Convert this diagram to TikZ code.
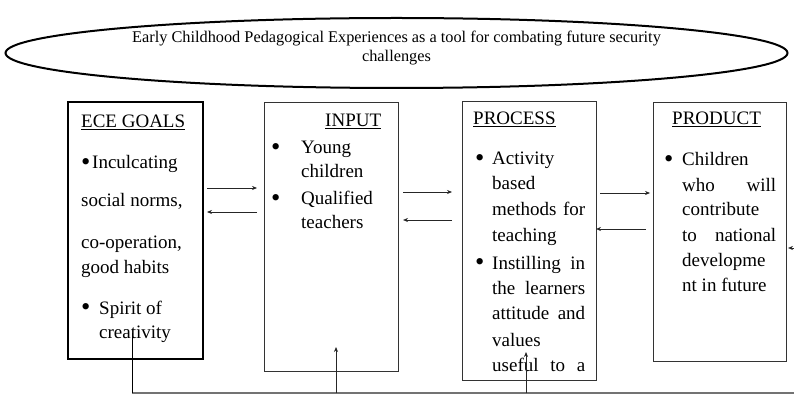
\documentclass[tikz,border=0pt]{standalone}
\usepackage{fontspec}
\setmainfont{Liberation Serif}
\usetikzlibrary{arrows.meta}
\newcommand{\bulmark}{\raisebox{-0.1em}{\scalebox{1.4}{\textbullet}}}
\begin{document}
\begin{tikzpicture}[x=1pt,y=-1pt,
  boxthin/.style={draw=black!80,line width=0.9pt,inner sep=0pt,outer sep=0pt},
  txt/.style={anchor=base west,inner sep=0pt,font=\fontsize{19}{22}\selectfont},
  arr/.style={-{Stealth[length=5pt,width=4pt]},line width=0.7pt,draw=black!85},
  low/.style={draw=black!55,line width=1.4pt}]
\useasboundingbox (0,0) rectangle (794,395);
% title ellipse
\draw[line width=2pt] (396.5,53) ellipse [x radius=391, y radius=35];
\node[inner sep=0pt,align=center,font=\fontsize{16.3}{19}\selectfont] (title) at (396.5,48)
  {Early Childhood Pedagogical Experiences as a tool for combating future security\\challenges};
% boxes
\node[draw,line width=2.6pt,inner sep=0pt,outer sep=0pt,minimum width=135,minimum height=257] (ece) at (135.5,230.5) {};
\node[boxthin,minimum width=134,minimum height=269] (inp) at (331,236.5) {};
\node[boxthin,minimum width=134,minimum height=279] (proc) at (529,240.5) {};
\node[boxthin,minimum width=133,minimum height=259] (prod) at (719.5,231.5) {};
% ECE text
\node[txt] (e0) at (81,128) {\underline{ECE GOALS}};
\node[txt] (e1b) at (81,169) {\bulmark};
\node[txt] (e1) at (92,169) {Inculcating};
\node[txt] (e2) at (81,207) {social norms,};
\node[txt] (e3) at (81,248) {co-operation,};
\node[txt] (e4) at (81,273) {good habits};
\node[txt] (e5b) at (81,314) {\bulmark};
\node[txt] (e5) at (99,314) {Spirit of};
\node[txt] (e6) at (99,338) {creativity};
% INPUT text
\node[txt] (i0) at (325,127) {\underline{INPUT}};
\node[txt] (i1b) at (271,154) {\bulmark};
\node[txt] (i1) at (301,154) {Young};
\node[txt] (i2) at (301,178) {children};
\node[txt] (i3b) at (271,205) {\bulmark};
\node[txt] (i3) at (301,205) {Qualified};
\node[txt] (i4) at (301,229) {teachers};
% PROCESS text
\node[txt] (p0) at (473,125) {\underline{PROCESS}};
\node[txt] (p1b) at (475,165) {\bulmark};
\node[txt] (p1) at (492,165) {Activity};
\node[txt] (p2) at (492,190) {based};
\node[txt] (p3) at (492,216) {\makebox[93pt][s]{methods for}};
\node[txt] (p4) at (492,241) {teaching};
\node[txt] (p5b) at (475,269) {\bulmark};
\node[txt] (p5) at (492,269) {\makebox[93pt][s]{Instilling in}};
\node[txt] (p6) at (492,294) {\makebox[93pt][s]{the learners}};
\node[txt] (p7) at (492,319) {\makebox[93pt][s]{attitude and}};
\node[txt] (p8) at (492,346) {values};
\node[txt] (p9) at (492,371) {\makebox[93pt][s]{useful to a}};
% PRODUCT text
\node[txt] (r0) at (672,125) {\underline{PRODUCT}};
\node[txt] (r1b) at (664,166) {\bulmark};
\node[txt] (r1) at (682,166) {Children};
\node[txt] (r2) at (682,192) {\makebox[94pt][s]{who will}};
\node[txt] (r3) at (682,216) {contribute};
\node[txt] (r4) at (682,241) {\makebox[94pt][s]{to national}};
\node[txt] (r5) at (682,266) {developme};
\node[txt] (r6) at (682,291) {nt in future};
% connector points
\coordinate (a1s) at (207,188); \coordinate (a1e) at (257,188);
\coordinate (a2s) at (257,212); \coordinate (a2e) at (207,212);
\coordinate (b1s) at (403,192); \coordinate (b1e) at (452,192);
\coordinate (b2s) at (452,220); \coordinate (b2e) at (403,220);
\coordinate (c1s) at (600,193); \coordinate (c1e) at (650,193);
\coordinate (c2s) at (646,229); \coordinate (c2e) at (596,229);
\coordinate (lt) at (132,333); \coordinate (lb) at (132,393); \coordinate (rb) at (794,393);
\coordinate (u1s) at (336,393); \coordinate (u1e) at (336,347);
\coordinate (u2s) at (526,393); \coordinate (u2e) at (526,352);
\coordinate (rs) at (794,248); \coordinate (re) at (788,248);
\draw[arr] (a1s) -- (a1e);
\draw[arr] (a2s) -- (a2e);
\draw[arr] (b1s) -- (b1e);
\draw[arr] (b2s) -- (b2e);
\draw[arr] (c1s) -- (c1e);
\draw[arr] (c2s) -- (c2e);
\draw[low] (rb) -- (lb);
\draw[line width=0.8pt] (lb) -- (lt);
\draw[arr] (u1s) -- (u1e);
\draw[arr] (u2s) -- (u2e);
\draw[arr] (rs) -- (re);
\end{tikzpicture}
\end{document}
